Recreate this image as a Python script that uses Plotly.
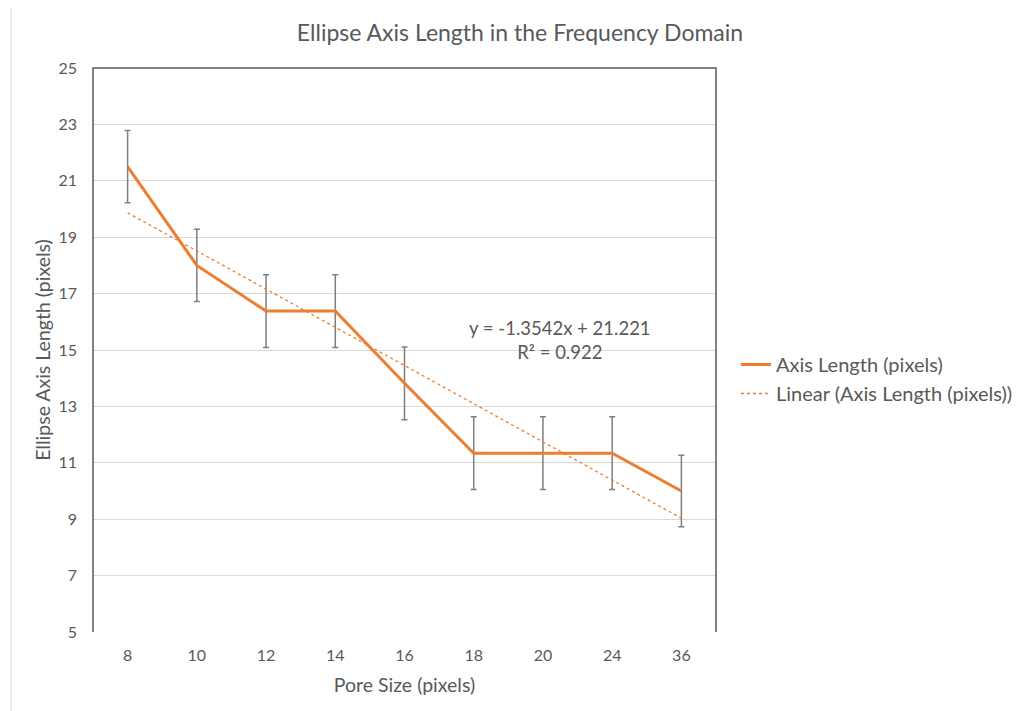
import plotly.graph_objects as go

pore_sizes = ["8", "10", "12", "14", "16", "18", "20", "24", "36"]
axis_length = [21.5, 18.0, 16.38, 16.38, 13.82, 11.34, 11.34, 11.34, 10.0]
error_vals = [1.28, 1.28, 1.29, 1.29, 1.29, 1.29, 1.29, 1.29, 1.27]
trend_slope = -1.3542
trend_intercept = 21.221
y_ticks = [5, 7, 9, 11, 13, 15, 17, 19, 21, 23, 25]

ORANGE = "#ED7D31"
FONT = "Lato"
GREY_TXT = "#595959"

trend_vals = [trend_slope * (i + 1) + trend_intercept for i in range(len(pore_sizes))]

fig = go.Figure()
fig.add_trace(go.Scatter(
    x=pore_sizes, y=axis_length, mode="lines",
    name="Axis Length (pixels)",
    line=dict(color=ORANGE, width=3),
    error_y=dict(type="data", array=error_vals, visible=True,
                 color="#7f7f7f", thickness=1.5, width=3),
))
fig.add_trace(go.Scatter(
    x=pore_sizes, y=trend_vals, mode="lines",
    name="Linear (Axis Length (pixels))",
    line=dict(color=ORANGE, width=1.3, dash="dot"),
))

OFF = 8  # default body margin of the page
W, H = 1025 - OFF, 711 - OFF
L, R, T, B = 93 - OFF, 716 - OFF, 68 - OFF, 632 - OFF
pw, ph = R - L, B - T

def px(x):
    return (x - OFF - L) / pw

def py(y):
    return (B - (y - OFF)) / ph

fig.update_layout(
    width=W, height=H,
    margin=dict(l=L, r=W - R, t=T, b=H - B),
    paper_bgcolor="white", plot_bgcolor="white",
    font=dict(family=FONT, color=GREY_TXT, size=16),
    title=dict(text="Ellipse Axis Length in the Frequency Domain",
               xref="paper", x=px(520), xanchor="center",
               yref="container", y=1 - (33 - OFF) / H, yanchor="middle",
               font=dict(size=23, color=GREY_TXT, family=FONT)),
    xaxis=dict(type="category", range=[-0.5, 8.5], showgrid=False,
               showline=False, ticks="", zeroline=False, ticklabelstandoff=12,
               tickfont=dict(size=16, color=GREY_TXT),
               title=dict(text="Pore Size (pixels)", font=dict(size=19.5, color=GREY_TXT), standoff=15)),
    yaxis=dict(range=[5, 25], tickvals=y_ticks, showgrid=True,
               gridcolor="#d9d9d9", gridwidth=1, zeroline=False,
               showline=False, ticks="", ticklabelstandoff=15,
               tickfont=dict(size=16, color=GREY_TXT),
               title=dict(text="Ellipse Axis Length (pixels)", font=dict(size=19.5, color=GREY_TXT), standoff=2)),
    legend=dict(xref="container", yref="container",
                x=(736 - OFF) / W, xanchor="left",
                y=1 - (379 - OFF) / H, yanchor="middle",
                font=dict(size=20, color=GREY_TXT), bgcolor="rgba(0,0,0,0)",
                tracegroupgap=4, itemwidth=30),
    showlegend=True,
    shapes=[
        dict(type="path", xref="paper", yref="paper",
             path="M 0 0 L 0 1 L 1 1 L 1 0",
             line=dict(color="#595959", width=1.5), layer="above"),
        dict(type="line", xref="paper", yref="paper",
             x0=px(11), x1=px(1030), y0=py(6), y1=py(6),
             line=dict(color="#d9d9d9", width=1)),
        dict(type="line", xref="paper", yref="paper",
             x0=px(11), x1=px(11), y0=py(6), y1=py(715),
             line=dict(color="#d9d9d9", width=1)),
    ],
    annotations=[
        dict(text="y = -1.3542x + 21.221<br>R² = 0.922", xref="paper", yref="paper",
             x=px(560), y=py(340), xanchor="center", yanchor="middle",
             showarrow=False, align="center",
             font=dict(size=18.5, color=GREY_TXT, family=FONT)),
    ],
)

fig.write_html("out.html")
